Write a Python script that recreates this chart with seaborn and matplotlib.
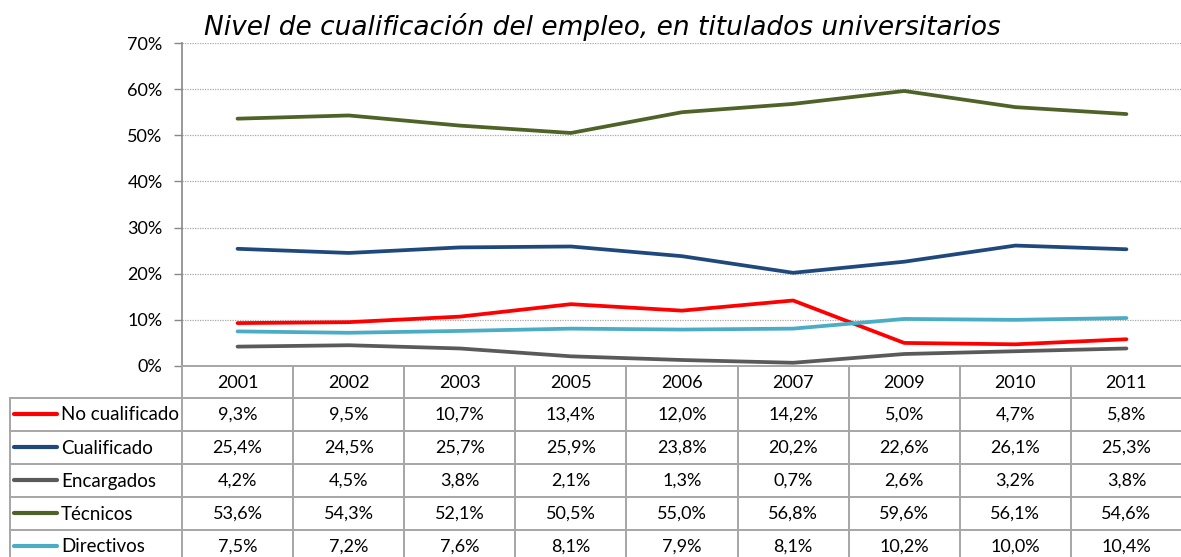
import matplotlib
matplotlib.use("Agg")
import matplotlib.pyplot as plt
import seaborn as sns
import pandas as pd
from matplotlib.ticker import FuncFormatter

# ── Data ──────────────────────────────────────────────────────
years = ["2001", "2002", "2003", "2005", "2006", "2007", "2009", "2010", "2011"]
no_cualificado = [9.3, 9.5, 10.7, 13.4, 12.0, 14.2, 5.0, 4.7, 5.8]
cualificado = [25.4, 24.5, 25.7, 25.9, 23.8, 20.2, 22.6, 26.1, 25.3]
encargados = [4.2, 4.5, 3.8, 2.1, 1.3, 0.7, 2.6, 3.2, 3.8]
tecnicos = [53.6, 54.3, 52.1, 50.5, 55.0, 56.8, 59.6, 56.1, 54.6]
directivos = [7.5, 7.2, 7.6, 8.1, 7.9, 8.1, 10.2, 10.0, 10.4]

series_names = ["No cualificado", "Cualificado", "Encargados", "Técnicos", "Directivos"]
series_vals = [no_cualificado, cualificado, encargados, tecnicos, directivos]
colors = ["#FF0000", "#1F497D", "#5A5A5A", "#4F6228", "#4BACC6"]

rows = []
for name, vals in zip(series_names, series_vals):
    for i, v in enumerate(vals):
        rows.append({"idx": i, "val": v, "serie": name})
df = pd.DataFrame(rows)

# ── Style ─────────────────────────────────────────────────────
sns.set_style("white")
plt.rcParams.update({
    "font.family": ["Lato", "DejaVu Sans"],
    "text.color": "black",
    "ytick.color": "black",
    "xtick.color": "black",
})

W, H = 1181, 557
fig = plt.figure(figsize=(W / 100, H / 100), dpi=100)

left, right, top, bottom = 182, 1182, 43, 366
ax = fig.add_axes([left / W, 1 - bottom / H, (right - left) / W, (bottom - top) / H])

sns.lineplot(data=df, x="idx", y="val", hue="serie", palette=colors,
             hue_order=series_names, linewidth=2.7, ax=ax, legend=False)

ax.set_xlim(-0.5, len(years) - 0.5)
ax.set_ylim(0, 70)
ax.set_yticks(range(0, 71, 10))
ax.yaxis.set_major_formatter(FuncFormatter(lambda v, p: f"{v:.0f}%"))
ax.tick_params(axis="y", length=6, width=1, color="#888888", labelcolor="black",
               labelsize=13, pad=8, direction="out", left=True)
ax.set_xticks([])
ax.set_xlabel("")
ax.set_ylabel("")
ax.grid(axis="y", linestyle=(0, (1, 1)), color="#A8A8A8", linewidth=0.9)
for s in ["top", "right", "bottom"]:
    ax.spines[s].set_visible(False)
ax.spines["left"].set_color("#888888")
ax.spines["left"].set_linewidth(1.2)

fig.text(204 / W, 1 - 27 / H, "Nivel de cualificación del empleo, en titulados universitarios",
         fontsize=19, style="italic", family="DejaVu Sans", color="black",
         va="center", ha="left")

# ── Data table ───────────────────────────────────────────────
tax = fig.add_axes([0, 0, 1, 1])
tax.set_xlim(0, W)
tax.set_ylim(H, 0)
tax.axis("off")

GRID = "#A6A6A6"
ncol = len(years)
cw = (right - left) / ncol
edges = [left + i * cw for i in range(ncol + 1)]
row_top = [bottom, 397.5, 430.5, 463.5, 496.5, 529.5, 562.5]
lab_left = 9.5

# horizontal lines
tax.plot([left, right], [bottom, bottom], color=GRID, lw=1.4)
for y in row_top[1:]:
    tax.plot([lab_left, right], [y, y], color=GRID, lw=1.4)
# vertical lines
for x in edges:
    tax.plot([x, x], [bottom, row_top[-1]], color=GRID, lw=1.4)
tax.plot([lab_left, lab_left], [row_top[1], row_top[-1]], color=GRID, lw=1.4)

# header
for i, yr in enumerate(years):
    tax.text(left + (i + 0.5) * cw, (row_top[0] + row_top[1]) / 2 + 1, yr,
             ha="center", va="center", fontsize=13)

# rows
for r, (name, vals, col) in enumerate(zip(series_names, series_vals, colors)):
    yc = (row_top[r + 1] + row_top[r + 2]) / 2 + 1
    tax.plot([14, 57], [yc - 1, yc - 1], color=col, lw=3.0, solid_capstyle="round")
    tax.text(61, yc, name, ha="left", va="center", fontsize=13.5)
    for i, v in enumerate(vals):
        tax.text(left + (i + 0.5) * cw, yc, f"{v:.1f}%".replace(".", ","),
                 ha="center", va="center", fontsize=13)

plt.savefig("out.png", dpi=100)
plt.close()
